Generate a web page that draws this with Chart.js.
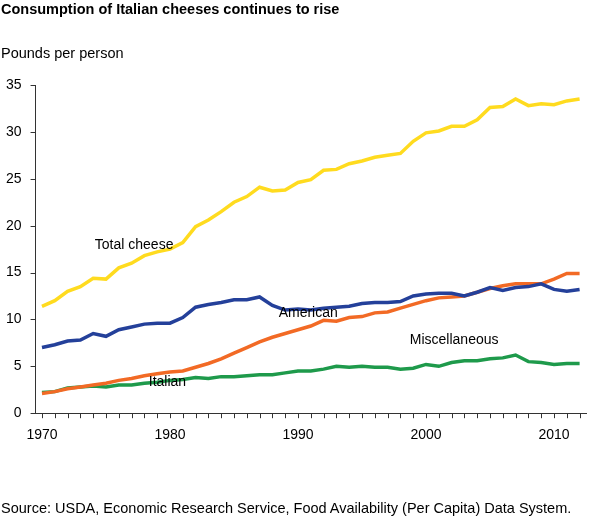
<!DOCTYPE html>
<html>
<head>
<meta charset="utf-8">
<script src="https://cdn.jsdelivr.net/npm/chart.js@4"></script>
<style>
  body { margin: 0; background: #fff; font-family: "Liberation Sans", Arial, sans-serif; }
  .wrap { position: relative; width: 590px; height: 521px; }
  .title { position: absolute; left: 1px; top: 1px; font-size: 14.5px; font-weight: bold; color: #000; }
  .ylab { position: absolute; left: 1px; top: 45px; font-size: 14.5px; color: #000; }
  .src { position: absolute; left: 1px; top: 500px; font-size: 14.5px; color: #000; }
  canvas { position: absolute; left: 0; top: 0; }
</style>
</head>
<body>
<div class="wrap">
  <canvas id="myChart" width="590" height="521"></canvas>
  <div class="title">Consumption of Italian cheeses continues to rise</div>
  <div class="ylab">Pounds per person</div>
  <div class="src">Source: USDA, Economic Research Service, Food Availability (Per Capita) Data System.</div>
</div>
<script>
const years = []
for (let y = 1970; y <= 2012; y++) years.push(y)

const totalCheese = [11.4,12.0,13.0,13.5,14.4,14.3,15.5,16.0,16.8,17.2,17.5,18.2,19.9,20.6,21.5,22.5,23.1,24.1,23.7,23.8,24.6,24.9,25.9,26.0,26.6,26.9,27.3,27.5,27.7,29.0,29.9,30.1,30.6,30.6,31.3,32.6,32.7,33.5,32.8,33.0,32.9,33.3,33.5]
const american = [7.0,7.3,7.7,7.8,8.5,8.2,8.9,9.2,9.5,9.6,9.6,10.2,11.3,11.6,11.8,12.1,12.1,12.4,11.5,11.0,11.1,11.0,11.2,11.3,11.4,11.7,11.8,11.8,11.9,12.5,12.7,12.8,12.8,12.5,12.9,13.4,13.1,13.4,13.5,13.8,13.2,13.0,13.2]
const italian = [2.1,2.3,2.6,2.8,3.0,3.2,3.5,3.7,4.0,4.2,4.4,4.5,4.9,5.3,5.8,6.4,7.0,7.6,8.1,8.5,8.9,9.3,9.9,9.8,10.2,10.3,10.7,10.8,11.2,11.6,12.0,12.3,12.4,12.5,12.9,13.3,13.6,13.8,13.8,13.8,14.3,14.9,14.9]
const misc = [2.2,2.3,2.7,2.8,2.9,2.8,3.0,3.0,3.2,3.3,3.5,3.6,3.8,3.7,3.9,3.9,4.0,4.1,4.1,4.3,4.5,4.5,4.7,5.0,4.9,5.0,4.9,4.9,4.7,4.8,5.2,5.0,5.4,5.6,5.6,5.8,5.9,6.2,5.5,5.4,5.2,5.3,5.3]

// series label positions, in data units
const seriesLabels = [
  { text: 'Total cheese', x: 1977.2, y: 17.9 },
  { text: 'American', x: 1990.8, y: 10.7 },
  { text: 'Italian', x: 1979.8, y: 3.35 },
  { text: 'Miscellaneous', x: 2002.2, y: 7.75 },
]

const toPts = (arr) => arr.map((v, i) => ({ x: years[i], y: v }))

const labelPlugin = {
  id: 'seriesLabels',
  afterDatasetsDraw(chart) {
    const { ctx, scales } = chart
    ctx.save()
    ctx.font = '14px "Liberation Sans", Arial, sans-serif'
    ctx.fillStyle = '#000'
    ctx.textAlign = 'center'
    ctx.textBaseline = 'middle'
    seriesLabels.forEach(l => {
      ctx.fillText(l.text, scales.x.getPixelForValue(l.x), scales.y.getPixelForValue(l.y))
    })
    ctx.restore()
  }
}

const line = (label, data, color) => ({
  label, data: toPts(data), borderColor: color, borderWidth: 3.5,
  pointRadius: 0, tension: 0, fill: false
})

new Chart(document.getElementById('myChart'), {
  type: 'line',
  data: {
    datasets: [
      line('Total cheese', totalCheese, '#FFDB1F'),
      line('American', american, '#24409A'),
      line('Italian', italian, '#F26A25'),
      line('Miscellaneous', misc, '#1E9A4B'),
    ]
  },
  options: {
    responsive: false,
    animation: false,
    layout: { padding: { top: 85, right: 4, bottom: 71, left: 0 } },
    plugins: { legend: { display: false }, tooltip: { enabled: false } },
    scales: {
      x: {
        type: 'linear', min: 1969.5, max: 2012.5,
        border: { color: '#333', width: 1 },
        grid: { display: false, drawTicks: true },
        afterBuildTicks: (axis) => { axis.ticks = years.map(v => ({ value: v })) },
        ticks: {
          autoSkip: false, maxRotation: 0, color: '#000', padding: 6,
          font: { size: 14, family: '"Liberation Sans", Arial, sans-serif' },
          callback: (v) => v % 10 === 0 ? String(v) : ''
        }
      },
      y: {
        min: 0, max: 35,
        border: { color: '#333', width: 1 },
        grid: { display: false },
        ticks: {
          stepSize: 5, color: '#000', padding: 6,
          font: { size: 14, family: '"Liberation Sans", Arial, sans-serif' }
        }
      }
    }
  },
  plugins: [labelPlugin, {
    id: 'tickMarks',
    afterDraw(chart) {
      const { ctx, scales, chartArea } = chart
      ctx.save()
      ctx.strokeStyle = '#333'
      ctx.lineWidth = 1
      years.forEach(y => {
        const px = Math.round(scales.x.getPixelForValue(y)) + 0.5
        ctx.beginPath(); ctx.moveTo(px, chartArea.bottom); ctx.lineTo(px, chartArea.bottom + 5); ctx.stroke()
      })
      for (let v = 0; v <= 35; v += 5) {
        const py = Math.round(scales.y.getPixelForValue(v)) + 0.5
        ctx.beginPath(); ctx.moveTo(chartArea.left - 5, py); ctx.lineTo(chartArea.left, py); ctx.stroke()
      }
      ctx.restore()
    }
  }]
})
</script>
</body>
</html>
